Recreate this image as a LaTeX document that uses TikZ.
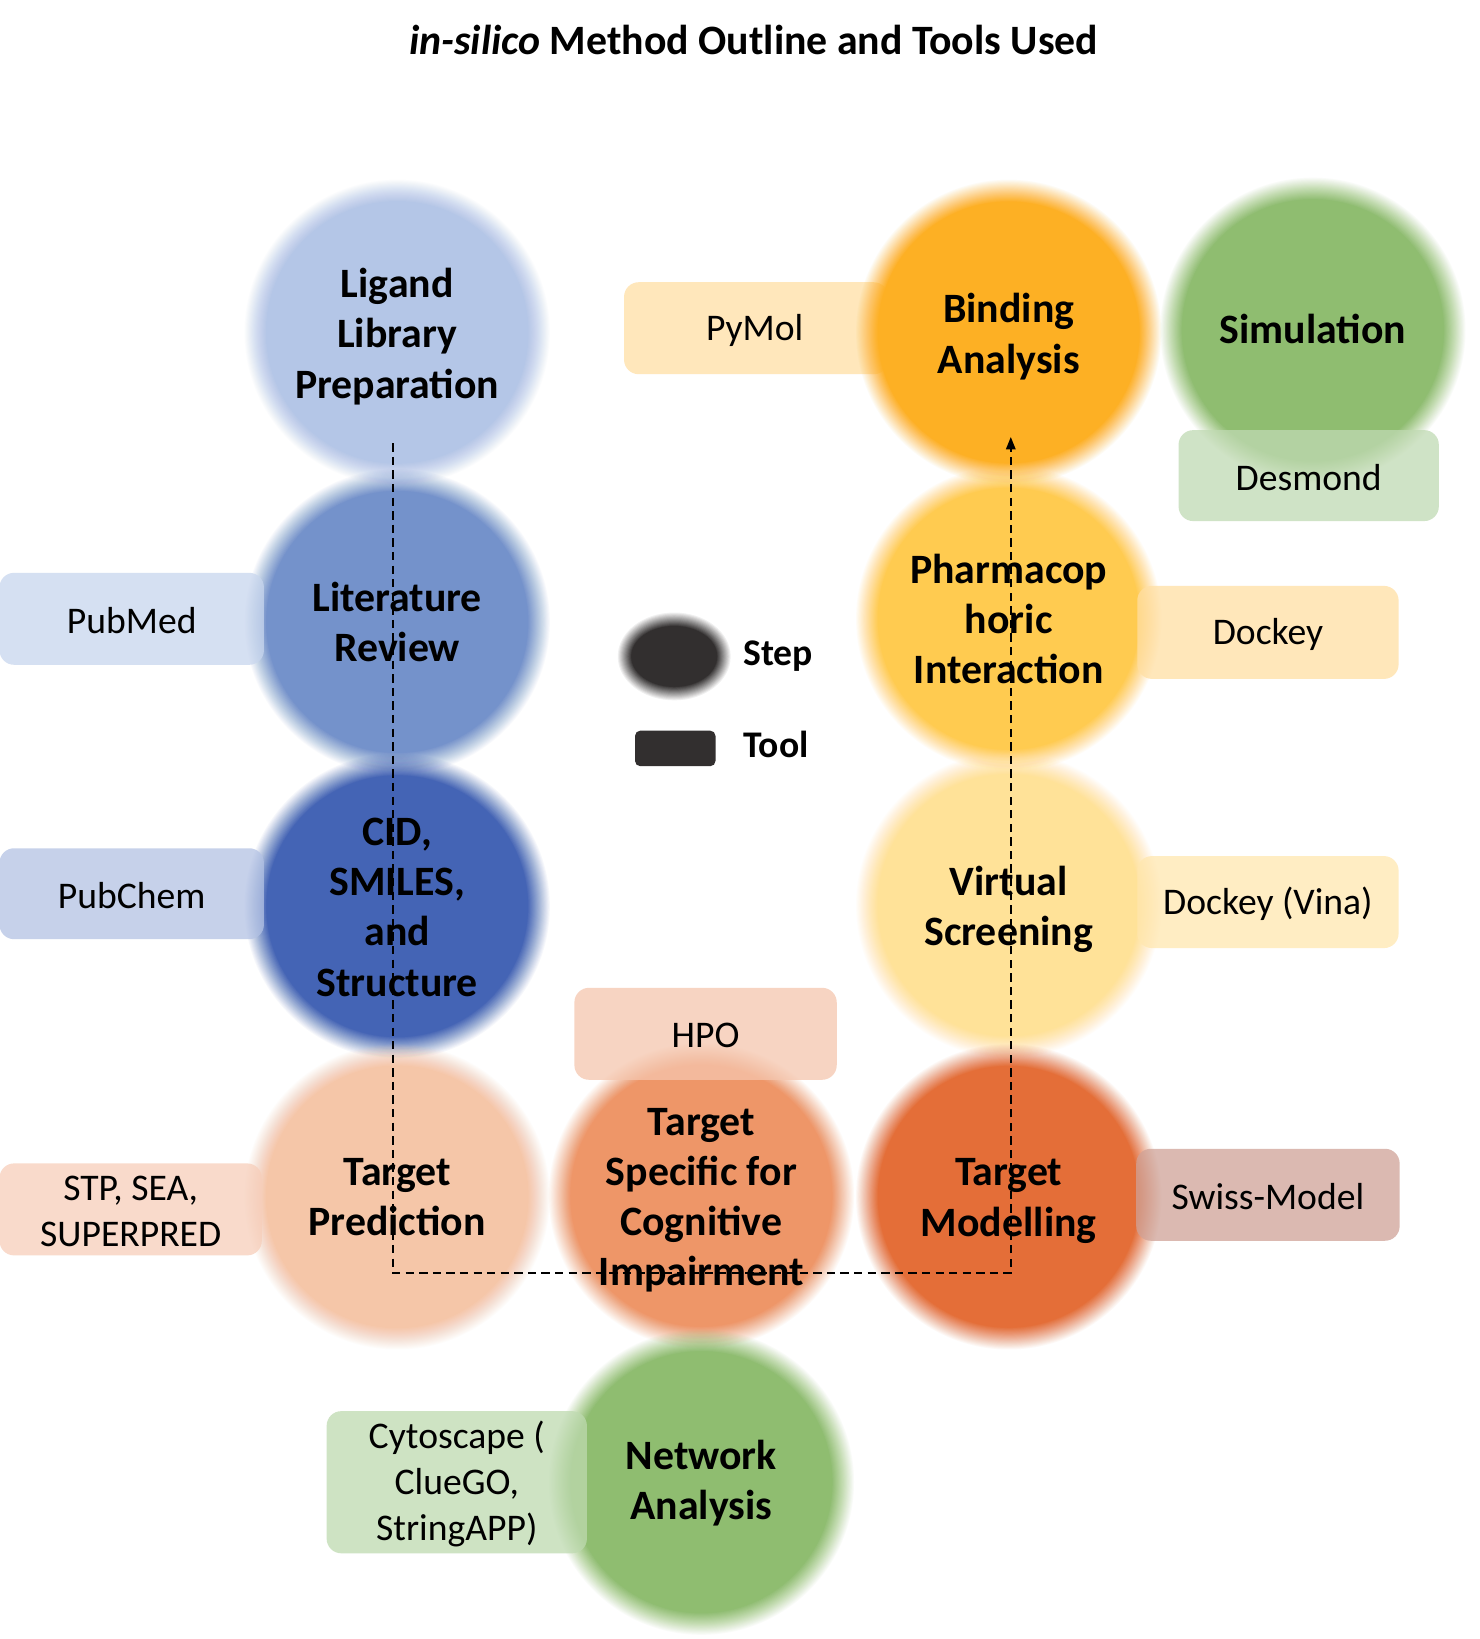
\documentclass[tikz,border=0pt]{standalone}
\usepackage{fontspec}
\setmainfont{Carlito}
\usetikzlibrary{arrows.meta,shapes.geometric,calc}
\definecolor{cLig}{RGB}{180,198,231}
\definecolor{cLit}{RGB}{116,146,203}
\definecolor{cCid}{RGB}{68,100,181}
\definecolor{cTpr}{RGB}{245,198,168}
\definecolor{cTsp}{RGB}{238,150,104}
\definecolor{cTmo}{RGB}{228,110,56}
\definecolor{cVs}{RGB}{255,226,152}
\definecolor{cPh}{RGB}{255,203,80}
\definecolor{cBi}{RGB}{253,176,36}
\definecolor{cSim}{RGB}{143,189,112}
\definecolor{cNet}{RGB}{143,189,112}
\definecolor{bPy}{RGB}{255,231,187}
\definecolor{bDe}{RGB}{192,218,179}
\definecolor{bPm}{RGB}{200,214,238}
\definecolor{bDo}{RGB}{255,223,163}
\definecolor{bPc}{RGB}{179,194,228}
\definecolor{bVi}{RGB}{255,231,175}
\definecolor{bHp}{RGB}{245,198,174}
\definecolor{bSt}{RGB}{247,206,186}
\definecolor{bSw}{RGB}{207,162,151}
\definecolor{bCy}{RGB}{190,218,176}
\definecolor{cDark}{RGB}{50,47,47}
\tikzset{
  stepnode/.style={circle, inner sep=0pt, minimum size=240pt, align=center,
    font=\fontsize{40}{48}\selectfont\bfseries, text=black},
  tooltext/.style={font=\fontsize{36}{44}\selectfont, text=black, align=center, inner sep=0pt, yshift=-2pt},
  flow/.style={line width=2pt, dash pattern=on 8pt off 5pt, -{Triangle[length=12pt,width=9pt]}},
  legtext/.style={font=\fontsize{36}{44}\selectfont\bfseries, anchor=west, inner sep=0pt},
  titletext/.style={font=\fontsize{40}{48}\selectfont\bfseries}
}
% #1 name, #2 centre, #3 colour, #4 text, #5 vertical text shift
\newcommand{\stepcirc}[5]{%
  \foreach \k in {1,...,22} {%
    \pgfmathsetmacro\rr{147-\k}\pgfmathsetmacro\op{1/(23-\k)}%
    \fill[#3, opacity=\op] (#2) circle (\rr pt);}
  \fill[#3] (#2) circle (125pt);
  \node[stepnode, yshift=#5pt] (#1) at (#2) {#4};
}
\newcommand{\toolnode}[6]{%
  \fill[#6, rounded corners=14pt, fill opacity=0.75] ($(#2)+(-#4/2,-#5/2)$) rectangle ($(#2)+(#4/2,#5/2)$);
  \node[tooltext] (#1) at (#2) {#3};
}
\begin{document}
\begin{tikzpicture}[x=1pt,y=-1pt]
\useasboundingbox[fill=white] (0,0) rectangle (1415,1568);
% title
\node[titletext] (title) at (721,38) {\textit{in-silico} Method Outline and Tools Used};
% box under circle
\fill[bPy, rounded corners=14pt] (597,270) rectangle (850,358);
\node[tooltext] (pymol) at (722,314) {PyMol};
% steps
\stepcirc{lig}{380,318}{cLig}{Ligand\\Library\\Preparation}{-4}
\stepcirc{lit}{380,595}{cLit}{Literature\\Review}{0}
\stepcirc{cid}{380,867}{cCid}{CID,\\SMILES,\\and\\Structure}{-1}
\stepcirc{tpr}{380,1145}{cTpr}{Target\\Prediction}{0}
\stepcirc{tsp}{671,1144}{cTsp}{Target\\Specific for\\Cognitive\\Impairment}{-4}
\stepcirc{net}{671,1418}{cNet}{Network\\Analysis}{-1}
\stepcirc{bind}{965,318}{cBi}{Binding\\Analysis}{-4}
\stepcirc{pharm}{965,592}{cPh}{Pharmacop\\horic\\Interaction}{0}
\stepcirc{vs}{965,866}{cVs}{Virtual\\Screening}{-4}
\stepcirc{tmod}{965,1145}{cTmo}{Target\\Modelling}{-4}
\stepcirc{sim}{1256,316}{cSim}{Simulation}{1}
% tools
\toolnode{desmond}{1252,455}{Desmond}{249}{87}{bDe}
\toolnode{pubmed}{126,592}{PubMed}{253}{88}{bPm}
\toolnode{dockey}{1213,605}{Dockey}{250}{89}{bDo}
\toolnode{pubchem}{126,855}{PubChem}{253}{87}{bPc}
\toolnode{vina}{1213,863}{Dockey (Vina)}{250}{88}{bVi}
\toolnode{hpo}{675,989}{HPO}{251}{88}{bHp}
\toolnode{stp}{125,1157}{STP, SEA,\\SUPERPRED}{251}{88}{bSt}
\toolnode{swiss}{1213,1143}{Swiss-Model}{252}{88}{bSw}
\toolnode{cyto}{437,1418}{Cytoscape (\\ClueGO,\\StringAPP)}{249}{136}{bCy}
% legend
\foreach \k in {1,...,14} {%
  \pgfmathsetmacro\op{1/(15-\k)}%
  \fill[cDark, opacity=\op] (645,628) ellipse ({(55-\k)*1pt} and {(43-\k)*1pt});}
\node[ellipse, fill=cDark, minimum width=82pt, minimum height=58pt, inner sep=0pt] (legstep) at (645,628) {};
\node[fill=cDark, rounded corners=5pt, minimum width=77pt, minimum height=34pt, inner sep=0pt] (legtool) at (646,716) {};
\node[legtext] (steplab) at (711,628) {Step};
\node[legtext] (toollab) at (711,712) {Tool};
% flow
\coordinate (dA) at (376,424);
\coordinate (dB) at (376,1218);
\coordinate (dC) at (967,1218);
\coordinate (dD) at (967,418);
\draw[flow] (dA) -- (dB) -- (dC) -- (dD);
\end{tikzpicture}
\end{document}
